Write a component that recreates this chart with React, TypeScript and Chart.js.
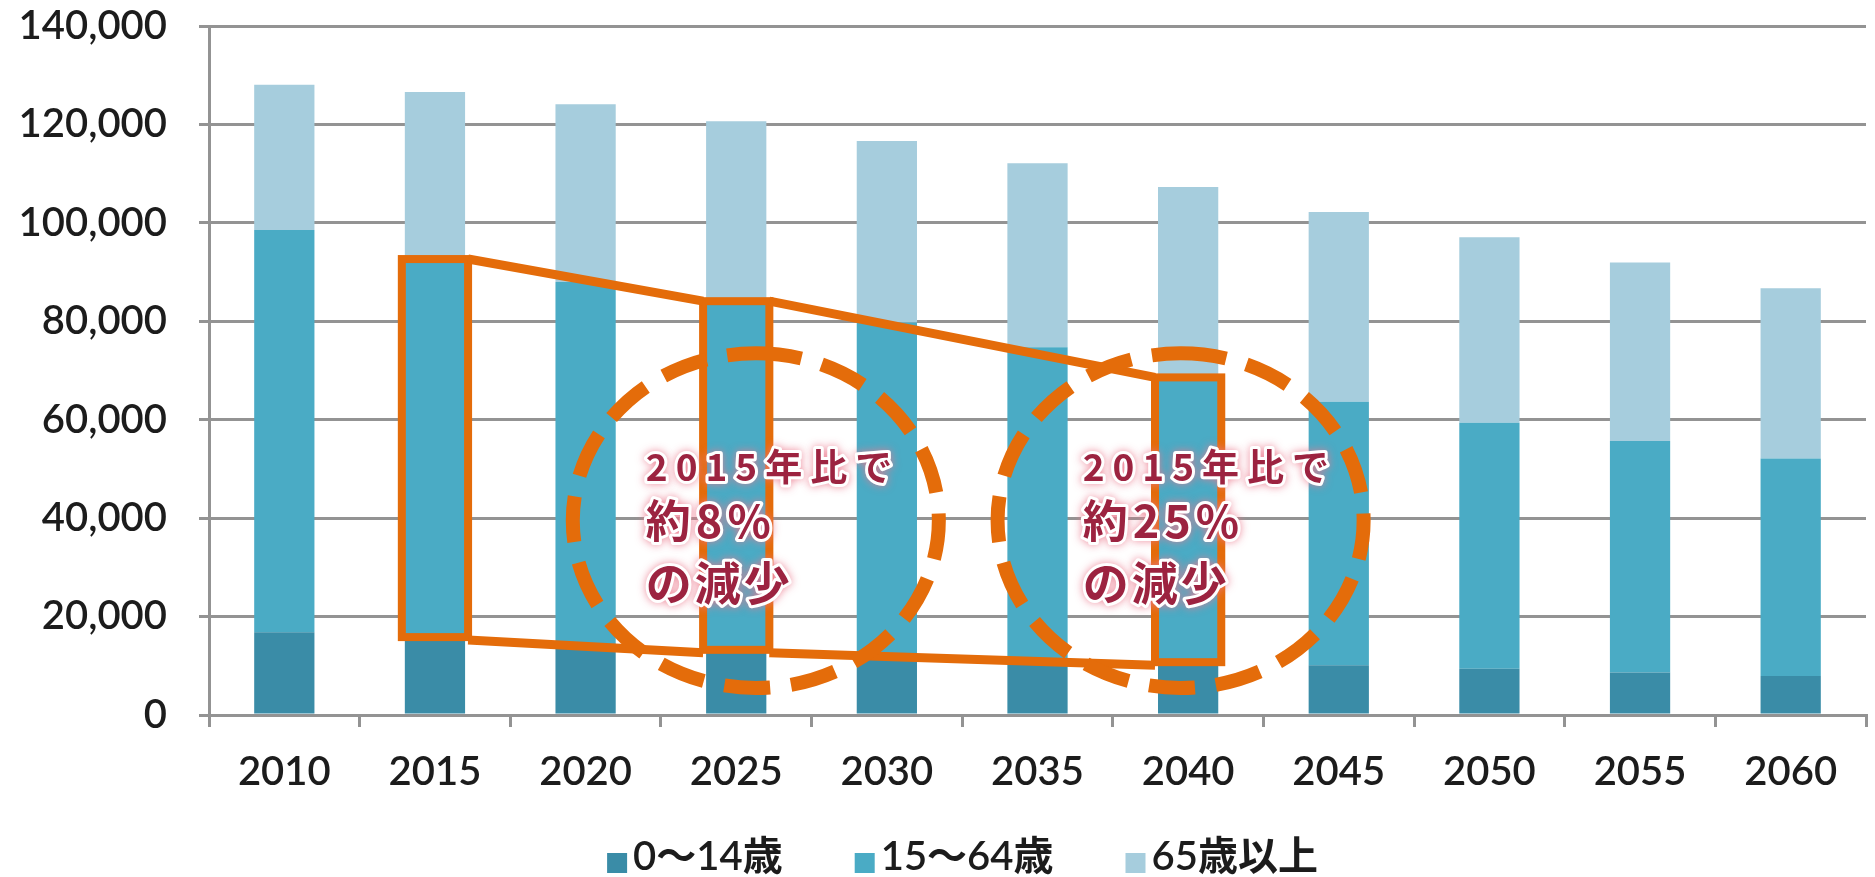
import React, { useEffect, useRef } from 'react';
import { Chart, registerables } from 'chart.js';

Chart.register(...registerables);

// ---- data (thousand persons) ----
const years = ['2010', '2015', '2020', '2025', '2030', '2035', '2040', '2045', '2050', '2055', '2060'];
const age0to14 = [16839, 15827, 14568, 13240, 12039, 11287, 10732, 10116, 9387, 8614, 7912];
const age15to64 = [81735, 76818, 73408, 70845, 67730, 63430, 57866, 53531, 50013, 47063, 44183];
const age65plus = [29484, 33952, 36124, 36573, 36849, 37407, 38678, 38564, 37676, 36257, 34642];
const seriesLabels = ['0～14歳', '15～64歳', '65歳以上'];
const yMin = 0;
const yMax = 140000;
const yStep = 20000;

// highlighted years for the working-age comparison
const highlightYears = ['2015', '2025', '2040'];
const callout1 = ['2015年比で', '約8%', 'の減少'];
const callout2 = ['2015年比で', '約25%', 'の減少'];

// ---- styles ----
const COLORS = ['#3a8ca7', '#4aabc5', '#a6cddd'];
const ORANGE = '#e46c0a';
const GRID = '#939393';
const TEXT = '#1c1c1c';
const TICK_FONT = { family: 'Lato, "Noto Sans CJK JP"', size: 40, weight: '600' as const };

// annotation geometry in data units (category index, value)
const circles = [
  { cx: 3.13, cy: 39500, rx: 1.215, ry: 34000 },
  { cx: 5.95, cy: 39500, rx: 1.215, ry: 34000 },
];
const callouts = [
  { x: 2.4, lines: callout1 },
  { x: 5.3, lines: callout2 },
];
const calloutLineValues = [50500, 39500, 27000];

const annotationPlugin = {
  id: 'annotations',
  afterDatasetsDraw(chart: any) {
    const ctx = chart.ctx as CanvasRenderingContext2D;
    const xs = chart.scales.x;
    const ys = chart.scales.y;
    const meta = chart.getDatasetMeta(1);
    const catW = xs.getPixelForValue(1) - xs.getPixelForValue(0);
    ctx.save();

    // boxes around 15-64 segments and connecting lines
    const boxes = highlightYears.map((yr) => {
      const i = years.indexOf(yr);
      const el = meta.data[i];
      const p = el.getProps(['x', 'y', 'base', 'width'], true);
      return { l: p.x - p.width / 2 - 3, r: p.x + p.width / 2 + 3, t: p.y, b: p.base };
    });
    ctx.strokeStyle = ORANGE;
    ctx.lineJoin = 'miter';
    ctx.lineWidth = 8;
    boxes.forEach((bx) => {
      ctx.strokeRect(bx.l, bx.t, bx.r - bx.l, bx.b - bx.t);
    });
    ctx.lineWidth = 9;
    for (let k = 0; k < boxes.length - 1; k++) {
      const a = boxes[k];
      const c = boxes[k + 1];
      ctx.beginPath();
      ctx.moveTo(a.r, a.t);
      ctx.lineTo(c.l, c.t);
      ctx.stroke();
      ctx.beginPath();
      ctx.moveTo(a.r, a.b + 3);
      ctx.lineTo(c.l, c.b + 3);
      ctx.stroke();
    }

    // dashed ellipses
    ctx.lineWidth = 14;
    ctx.setLineDash([46, 21]);
    circles.forEach((c) => {
      const cx = xs.getPixelForValue(c.cx);
      const cy = ys.getPixelForValue(c.cy);
      const rx = c.rx * catW;
      const ry = ys.getPixelForValue(0) - ys.getPixelForValue(c.ry);
      ctx.beginPath();
      ctx.ellipse(cx, cy, rx, ry, 0, -Math.PI / 2, Math.PI * 1.5);
      ctx.stroke();
    });
    ctx.setLineDash([]);

    // callout texts
    const fonts = [
      'bold 37px "Noto Sans CJK JP"',
      'bold 45px "Noto Sans CJK JP"',
      'bold 46px "Noto Sans CJK JP"',
    ];
    const spacing = ['8px', '5px', '3px'];
    ctx.textAlign = 'left';
    ctx.textBaseline = 'middle';
    callouts.forEach((co) => {
      const x = xs.getPixelForValue(co.x);
      co.lines.forEach((line, li) => {
        const y = ys.getPixelForValue(calloutLineValues[li]);
        ctx.font = fonts[li];
        (ctx as any).letterSpacing = spacing[li];
        ctx.shadowColor = 'rgba(235,120,140,0.85)';
        ctx.shadowBlur = 8;
        ctx.strokeStyle = '#ffffff';
        ctx.lineWidth = 6;
        ctx.lineJoin = 'round';
        ctx.strokeText(line, x, y);
        ctx.shadowColor = 'transparent';
        ctx.shadowBlur = 0;
        ctx.fillStyle = '#9c2340';
        ctx.fillText(line, x, y);
      });
    });
    (ctx as any).letterSpacing = '0px';
    ctx.restore();
  },
};

const legendPlugin = {
  id: 'bottomLegend',
  afterDraw(chart: any) {
    const ctx = chart.ctx as CanvasRenderingContext2D;
    ctx.save();
    ctx.font = '600 40px Lato, "Noto Sans CJK JP"';
    ctx.textAlign = 'left';
    ctx.textBaseline = 'alphabetic';
    const box = 20;
    const gapBox = 6;
    const gapItem = 72;
    const items = chart.data.datasets.map((ds: any) => ({
      label: ds.label as string,
      color: ds.backgroundColor as string,
      w: ctx.measureText(ds.label).width,
    }));
    const total =
      items.reduce((s: number, it: any) => s + box + gapBox + it.w, 0) + gapItem * (items.length - 1);
    let x = chart.width / 2 + 25 - total / 2;
    const baseline = chart.height - 7;
    items.forEach((it: any) => {
      ctx.fillStyle = it.color;
      ctx.fillRect(x, baseline - 17, box, box);
      x += box + gapBox;
      ctx.fillStyle = TEXT;
      ctx.fillText(it.label, x, baseline);
      x += it.w + gapItem;
    });
    ctx.restore();
  },
};

export default function App() {
  const canvasRef = useRef<HTMLCanvasElement | null>(null);

  useEffect(() => {
    if (!canvasRef.current) return;
    const chart = new Chart(canvasRef.current, {
      type: 'bar',
      data: {
        labels: years,
        datasets: [
          { label: seriesLabels[0], data: age0to14, backgroundColor: COLORS[0] },
          { label: seriesLabels[1], data: age15to64, backgroundColor: COLORS[1] },
          { label: seriesLabels[2], data: age65plus, backgroundColor: COLORS[2] },
        ],
      },
      options: {
        animation: false,
        responsive: true,
        maintainAspectRatio: false,
        datasets: { bar: { barPercentage: 0.4, categoryPercentage: 1 } },
        layout: { padding: { left: 0, right: 9, top: 0, bottom: 60 } },
        plugins: { legend: { display: false }, tooltip: { enabled: false } },
        scales: {
          x: {
            stacked: true,
            grid: { offset: true, drawOnChartArea: false, drawTicks: true, tickLength: 12, color: GRID, lineWidth: 3 },
            border: { display: true, color: GRID, width: 3 },
            ticks: { font: TICK_FONT, color: TEXT, padding: 21, maxRotation: 0, autoSkip: false },
          },
          y: {
            stacked: true,
            min: yMin,
            max: yMax,
            grid: { color: GRID, lineWidth: 3, tickLength: 10, drawTicks: true },
            border: { display: true, color: GRID, width: 3 },
            ticks: {
              stepSize: yStep,
              font: TICK_FONT,
              color: TEXT,
              padding: 32,
              callback: (v: any) => Number(v).toLocaleString('en-US'),
            },
            afterFit: (scale: any) => {
              scale.width = 209;
              scale.paddingTop = 26;
              scale.paddingBottom = 10;
            },
          },
        },
      },
      plugins: [annotationPlugin, legendPlugin],
    });
    return () => chart.destroy();
  }, []);

  return (
    <div style={{ position: 'fixed', left: 0, top: 0, width: 1875, height: 877, background: '#ffffff' }}>
      <canvas ref={canvasRef} />
    </div>
  );
}
